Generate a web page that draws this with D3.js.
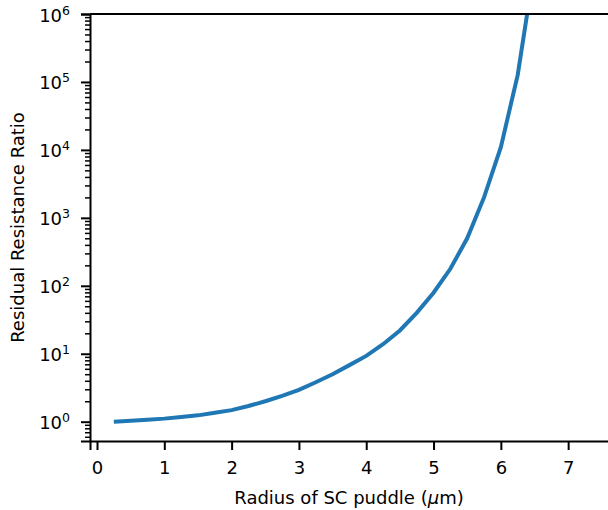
<!DOCTYPE html>
<html>
<head>
<meta charset="utf-8">
<script src="https://cdn.jsdelivr.net/npm/d3@7"></script>
<style>
  body { margin: 0; background: #fff; }
  svg text { font-family: "DejaVu Sans", sans-serif; fill: #000; }
</style>
</head>
<body>
<div id="okvir"></div>
<script>
// radius of SC puddle (um) and residual resistance ratio
const radius = [0.25, 0.5, 0.75, 1.0, 1.25, 1.5, 1.75, 2.0, 2.25, 2.5, 2.75, 3.0, 3.25,
  3.5, 3.75, 4.0, 4.25, 4.5, 4.75, 5.0, 5.25, 5.5, 5.75, 6.0, 6.25, 6.5];
const rrr = [1.0, 1.03, 1.07, 1.11, 1.17, 1.24, 1.35, 1.48, 1.7, 2.0, 2.4, 2.95, 3.8,
  5.0, 6.8, 9.3, 13.8, 22, 40, 79, 178, 500, 2000, 11000, 126000, 5000000];

const xTicks = [0, 1, 2, 3, 4, 5, 6, 7];
const yExponents = [0, 1, 2, 3, 4, 5, 6];
const xLabel = "Radius of SC puddle (";
const yLabel = "Residual Resistance Ratio";

function crtaj() {
  const sirina = 608, visina = 510;
  const m = { left: 90, top: 14, bottom: 441, right: 622 };
  const fs = "18px";

  const svg = d3.select("#okvir").append("svg")
    .attr("width", sirina)
    .attr("height", visina);

  const xSkala = d3.scaleLinear()
    .domain([-0.104, 7.8])
    .range([m.left, m.right]);

  const ySkala = d3.scaleLog()
    .domain([0.52, 1e6])
    .range([m.bottom, m.top]);

  // minor ticks on the log axis
  const minor = [];
  [0.1, 1, 10, 100, 1000, 10000, 100000].forEach(d => {
    for (let k = 2; k <= 9; k++) {
      const v = d * k;
      if (v >= 0.52 && v <= 1e6) minor.push(v);
    }
  });

  svg.append("defs").append("clipPath").attr("id", "clip")
    .append("rect")
    .attr("x", m.left).attr("y", m.top)
    .attr("width", m.right - m.left).attr("height", m.bottom - m.top);

  const linija = d3.line()
    .x((d, i) => xSkala(radius[i]))
    .y(d => ySkala(d));

  svg.append("path")
    .datum(rrr)
    .attr("clip-path", "url(#clip)")
    .attr("fill", "none")
    .attr("stroke", "#1f77b4")
    .attr("stroke-width", 4)
    .attr("d", linija);

  // x axis
  const xOs = svg.append("g")
    .attr("transform", `translate(0,${m.bottom})`)
    .call(d3.axisBottom(xSkala).tickValues(xTicks).tickSize(9).tickPadding(11).tickFormat(d3.format("d")));
  xOs.select(".domain").attr("stroke-width", 2);
  xOs.selectAll(".tick line").attr("stroke-width", 2);
  xOs.selectAll("text").style("font-size", fs).attr("font-family", "DejaVu Sans");

  // top spine
  svg.append("line")
    .attr("x1", m.left).attr("x2", sirina)
    .attr("y1", m.top).attr("y2", m.top)
    .attr("stroke", "#000").attr("stroke-width", 2);

  // y axis minor ticks
  const yMinor = svg.append("g")
    .attr("transform", `translate(${m.left},0)`)
    .call(d3.axisLeft(ySkala).tickValues(minor).tickSize(5).tickFormat(""));
  yMinor.select(".domain").remove();
  yMinor.selectAll(".tick line").attr("stroke-width", 1.5);

  // y axis major ticks
  const yOs = svg.append("g")
    .attr("transform", `translate(${m.left},0)`)
    .call(d3.axisLeft(ySkala)
      .tickValues(yExponents.map(e => Math.pow(10, e)))
      .tickSize(9).tickPadding(12)
      .tickFormat(""));
  yOs.select(".domain").attr("stroke-width", 2);
  yOs.selectAll(".tick line").attr("stroke-width", 2);
  yOs.selectAll(".tick text").remove();
  yOs.selectAll(".tick")
    .append("text")
    .attr("x", -20)
    .attr("y", 7)
    .attr("text-anchor", "end")
    .attr("font-family", "DejaVu Sans")
    .style("font-size", fs)
    .attr("fill", "#000")
    .each(function (d) {
      const t = d3.select(this);
      const e = Math.round(Math.log10(d));
      t.append("tspan").text("10");
      t.append("tspan").attr("dy", -7).style("font-size", "12.5px").text(e);
    });

  // axis titles
  const xt = svg.append("text")
    .attr("x", (m.left + m.right) / 2 - 7)
    .attr("y", 504)
    .attr("text-anchor", "middle")
    .style("font-size", fs)
    .text(xLabel);
  xt.append("tspan").style("font-style", "italic").text("\u03bc");
  xt.append("tspan").text("m)");

  svg.append("text")
    .attr("transform", `translate(24,${(m.top + m.bottom) / 2}) rotate(-90)`)
    .attr("text-anchor", "middle")
    .style("font-size", fs)
    .text(yLabel);
}
crtaj();
</script>
</body>
</html>
